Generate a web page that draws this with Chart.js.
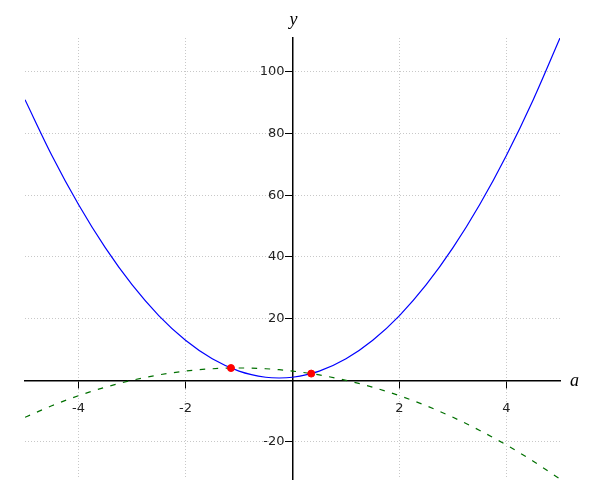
<!DOCTYPE html>
<html>
<head>
<meta charset="utf-8">
<script src="https://cdn.jsdelivr.net/npm/chart.js@4/dist/chart.umd.min.js"></script>
<style>
  html, body { margin: 0; padding: 0; background: #fff; }
  #wrap { width: 600px; height: 500px; }
</style>
</head>
<body>
<div id="wrap"><canvas id="plot" width="600" height="500"></canvas></div>
<script>
// values
const aValues = [-5, -4.5, -4, -3.5, -3, -2.5, -2, -1.5, -1, -0.5, -0.25, 0, 0.5, 1, 1.5, 2, 2.5, 3, 3.5, 4, 4.5, 5];
const blueValues = [91, 73, 57, 43, 31, 21, 13, 7, 3, 1, 0.75, 1, 3, 7, 13, 21, 31, 43, 57, 73, 91, 111];
const greenValues = [-12, -8.25, -5, -2.25, 0, 1.75, 3, 3.75, 4, 3.75, 3.44, 3, 1.75, 0, -2.25, -5, -8.25, -12, -16.25, -21, -26.25, -32];
const crossA = [-1.15, 0.35];
const crossY = [3.98, 2.18];

const xTicks = [-4, -2, 2, 4];
const yTicks = [-20, 20, 40, 60, 80, 100];

const toPoints = (xs, ys) => xs.map((x, i) => ({ x: x, y: ys[i] }));

// axis names + y tick labels (chart.js puts centred y labels right on the axis line)
const axisText = {
  id: 'axisText',
  afterDraw(chart) {
    const c = chart.ctx;
    const area = chart.chartArea;
    const sy = chart.scales.y;
    const x0 = chart.scales.x.getPixelForValue(0);
    const y0 = sy.getPixelForValue(0);
    c.save();
    c.fillStyle = '#222';
    c.font = '13px "DejaVu Sans"';
    c.textAlign = 'right';
    c.textBaseline = 'middle';
    yTicks.forEach(v => c.fillText(String(v), x0 - 8, sy.getPixelForValue(v)));
    c.fillStyle = '#000';
    c.font = 'italic 18px "Liberation Serif"';
    c.textAlign = 'center';
    c.fillText('y', x0 + 1, area.top - 18);
    c.textAlign = 'left';
    c.fillText('a', area.right + 10, y0 + 1);
    c.restore();
  }
};

const gridStyle = {
  color: '#c8c8c8',
  lineWidth: 1,
  tickColor: '#000',
  tickWidth: 1,
  tickBorderDash: [],
  tickLength: 7
};

const borderStyle = { color: '#000', width: 1.5, dash: [1, 2] };

new Chart(document.getElementById('plot'), {
  type: 'scatter',
  data: {
    datasets: [
      {
        type: 'line',
        data: toPoints(aValues, blueValues),
        borderColor: '#0000ff',
        borderWidth: 1.2,
        pointRadius: 0,
        cubicInterpolationMode: 'monotone',
        fill: false,
        order: 2
      },
      {
        type: 'line',
        data: toPoints(aValues, greenValues),
        borderColor: '#007000',
        borderWidth: 1.2,
        borderDash: [5.5, 7.5],
        pointRadius: 0,
        cubicInterpolationMode: 'monotone',
        fill: false,
        order: 3
      },
      {
        data: toPoints(crossA, crossY),
        backgroundColor: '#ff0000',
        borderColor: '#ff0000',
        pointRadius: 3.5,
        order: 1
      }
    ]
  },
  options: {
    responsive: false,
    animation: false,
    layout: { padding: { left: 25, right: 40, top: 38, bottom: 21 } },
    plugins: { legend: { display: false }, tooltip: { enabled: false } },
    scales: {
      x: {
        type: 'linear',
        position: { y: 0 },
        min: -5,
        max: 5,
        afterBuildTicks: s => { s.ticks = xTicks.map(v => ({ value: v })); },
        grid: gridStyle,
        border: borderStyle,
        ticks: {
          color: '#222',
          font: { family: 'DejaVu Sans', size: 13 },
          padding: 14,
          maxRotation: 0
        }
      },
      y: {
        type: 'linear',
        position: { x: 0 },
        min: -32,
        max: 111,
        afterBuildTicks: s => { s.ticks = yTicks.map(v => ({ value: v })); },
        grid: gridStyle,
        border: borderStyle,
        ticks: { display: false }
      }
    }
  },
  plugins: [axisText]
});
</script>
</body>
</html>
